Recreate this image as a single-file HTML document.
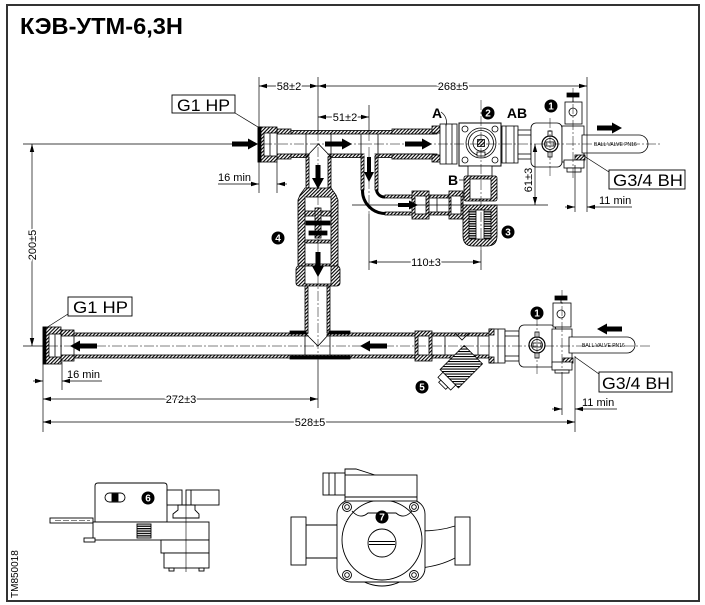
<!DOCTYPE html>
<html><head><meta charset="utf-8"><style>
html,body{margin:0;padding:0;background:#fff;width:705px;height:605px;overflow:hidden}
svg{display:block}
</style></head><body>
<svg width="705" height="605" viewBox="0 0 705 605" xmlns="http://www.w3.org/2000/svg" font-family="'Liberation Sans', Arial, sans-serif">
<defs>
<pattern id="h" width="2.5" height="2.5" patternUnits="userSpaceOnUse" patternTransform="rotate(45)">
<rect width="2.5" height="2.5" fill="#fff"/><rect width="1.1" height="2.5" fill="#000"/>
</pattern>
<pattern id="hz" width="3" height="2.4" patternUnits="userSpaceOnUse"><rect width="3" height="2.4" fill="#fff"/><rect width="3" height="1.3" fill="#000"/></pattern>
<marker id="m" viewBox="0 0 8 6" refX="8" refY="3" markerWidth="8" markerHeight="6" markerUnits="userSpaceOnUse" orient="auto-start-reverse"><path d="M0,0.8 L8,3 L0,5.2z" fill="#000"/></marker>
</defs>

<rect x="7" y="5" width="692" height="596" fill="none" stroke="#333" stroke-width="2"/>
<text x="20" y="34" font-size="23" font-weight="bold" textLength="163" lengthAdjust="spacingAndGlyphs">КЭВ-УТМ-6,3Н</text>

<!-- ===== UPPER PIPE ===== -->
<g stroke="#000" stroke-width="0.8">
<rect x="290" y="130.5" width="147" height="3.5" fill="url(#h)"/>
<rect x="290" y="154" width="147" height="3.5" fill="url(#h)"/>
<rect x="392" y="129" width="42" height="5" fill="url(#h)"/>
<rect x="392" y="154" width="42" height="5" fill="url(#h)"/>
<rect x="277" y="129" width="14" height="5" fill="url(#h)"/>
<rect x="277" y="154" width="14" height="5" fill="url(#h)"/>
<rect x="258" y="127" width="19" height="35" fill="url(#h)"/>
<rect x="264" y="133" width="13" height="23" fill="#fff"/>
<rect x="258" y="127" width="3" height="35" fill="#000"/>
<line x1="270" y1="133" x2="270" y2="156"/>
<!-- tee 1 -->
<rect x="309.5" y="153" width="18" height="6" fill="#fff" stroke="none"/>
<line x1="306" y1="134" x2="306" y2="157"/><line x1="331" y1="134" x2="331" y2="157"/>
<path d="M306,157 L318.5,144 L331,157" fill="none"/>
<rect x="306" y="157" width="3" height="31" fill="url(#h)"/>
<rect x="328" y="157" width="3" height="31" fill="url(#h)"/>
<!-- tee 2 -->
<rect x="364.5" y="153" width="10" height="6" fill="#fff" stroke="none"/>
<line x1="361" y1="134" x2="361" y2="157"/><line x1="378" y1="134" x2="378" y2="157"/>
<rect x="361" y="157" width="3" height="33" fill="url(#h)"/>
<rect x="375" y="157" width="3" height="33" fill="url(#h)"/>
<path d="M362.5,190 A23,23 0 0 0 385,213.5" fill="none" stroke-width="3"/>
<path d="M376.5,190 A8,8 0 0 0 385,197" fill="none" stroke-width="3"/>
<rect x="385" y="195" width="27" height="3" fill="url(#h)"/>
<rect x="385" y="212" width="27" height="3" fill="url(#h)"/>
<rect x="412" y="191" width="17" height="28" fill="url(#h)"/>
<rect x="415" y="196" width="11" height="18" fill="#fff"/>
<rect x="429" y="195" width="20" height="3" fill="url(#h)"/>
<rect x="429" y="212" width="20" height="3" fill="url(#h)"/>
<line x1="437" y1="198" x2="437" y2="212"/>
<rect x="449" y="191" width="14" height="28" fill="url(#h)"/>
<rect x="451" y="196" width="10" height="18" fill="#fff"/>

<!-- check valve 4 -->
<path d="M305,188 L300,195 L298,200 L298,266 L338,266 L338,200 L336,195 L331,188 Z" fill="url(#h)"/>
<rect x="305" y="197" width="26" height="67" fill="#fff"/>
<rect x="305" y="211" width="26" height="5" fill="url(#h)"/>
<rect x="315" y="208" width="6" height="30" fill="url(#h)"/>
<rect x="306" y="221" width="24" height="4" fill="#000"/>
<rect x="309" y="231" width="18" height="4" fill="#000"/>
<rect x="305" y="240" width="26" height="3" fill="url(#h)"/>
<rect x="296" y="266" width="44" height="20" rx="3" fill="url(#h)"/>
<rect x="305" y="266" width="26" height="18" fill="#fff"/>
<rect x="305" y="286" width="3" height="47" fill="url(#h)"/>
<rect x="327" y="286" width="3" height="47" fill="url(#h)"/>

<!-- nut A & mixing valve 2 -->
<rect x="432" y="126" width="8" height="7" fill="url(#h)"/>
<rect x="432" y="155" width="8" height="7" fill="url(#h)"/>
<rect x="440" y="124" width="17" height="40" fill="#fff"/>
<line x1="446" y1="124" x2="446" y2="164"/><line x1="452" y1="124" x2="452" y2="164"/>
<rect x="459" y="123" width="42" height="43" fill="#fff" stroke-width="1"/>
<circle cx="465" cy="129" r="3" fill="#fff"/><circle cx="495" cy="129" r="3" fill="#fff"/>
<circle cx="465" cy="160" r="3" fill="#fff"/><circle cx="495" cy="160" r="3" fill="#fff"/>
<circle cx="481" cy="143" r="15" fill="#fff"/>
<circle cx="481" cy="143" r="12.5" fill="none"/>
<circle cx="481" cy="143" r="8" fill="none"/>
<rect x="477.5" y="139.5" width="7" height="7" fill="url(#h)"/>
<rect x="477" y="152" width="8" height="4" fill="#fff"/>
<!-- nut AB etc -->
<rect x="502" y="126" width="16" height="37" fill="#fff"/>
<line x1="506" y1="126" x2="506" y2="163"/><line x1="514" y1="126" x2="514" y2="163"/>
<rect x="518" y="130" width="13" height="29" fill="#fff"/>
<line x1="518" y1="135" x2="531" y2="135"/><line x1="518" y1="154" x2="531" y2="154"/>
<rect x="531" y="123" width="31" height="44" rx="5" fill="#fff"/>
<circle cx="550" cy="144" r="8" fill="#fff" stroke-width="1.2"/>
<circle cx="550" cy="144" r="5.5" fill="none"/>
<rect x="546" y="142" width="8" height="4" fill="#fff"/>
<rect x="548" y="131" width="4" height="5" fill="#fff"/>
<rect x="548" y="152" width="4" height="5" fill="#fff"/>
<rect x="562" y="126" width="22" height="36" fill="#fff"/>
<rect x="565" y="102" width="17" height="22" fill="#fff"/>
<circle cx="573" cy="112" r="4" fill="#fff"/>
<rect x="567" y="93" width="12" height="4" fill="#000"/>
<line x1="573" y1="97" x2="573" y2="102"/>
<rect x="575" y="155" width="10" height="5" fill="url(#h)"/>
<rect x="564" y="160" width="20" height="8" fill="#fff"/>
<rect x="567" y="168" width="14" height="4" fill="#fff"/>
<path d="M582,135 L639,135 A9,9 0 0 1 639,153 L582,153 Z" fill="#fff"/>
<!-- B port & 3 -->
<rect x="468" y="166" width="24" height="10" fill="#fff"/>
<rect x="464" y="176" width="33" height="25" rx="2" fill="url(#h)"/>
<rect x="470" y="179" width="21" height="20" fill="#fff"/>
<path d="M463,205 L497,205 L497,236 Q497,246 487,246 L473,246 Q463,246 463,236 Z" fill="url(#h)"/>
<rect x="469" y="210" width="22" height="29" fill="url(#hz)"/>
<rect x="476" y="210" width="8" height="29" fill="#fff"/>
</g>

<!-- ===== LOWER PIPE ===== -->
<g stroke="#000" stroke-width="0.8">
<rect x="74" y="333" width="341" height="3" fill="url(#h)"/>
<rect x="74" y="355" width="341" height="3" fill="url(#h)"/>
<rect x="61" y="330" width="13" height="6" fill="url(#h)"/>
<rect x="61" y="355" width="13" height="6" fill="url(#h)"/>
<line x1="74" y1="336" x2="74" y2="355"/>
<rect x="43" y="327" width="18" height="37" fill="url(#h)"/>
<rect x="49" y="334" width="12" height="23" fill="#fff"/>
<rect x="43" y="327" width="3" height="37" fill="#000"/>
<line x1="55" y1="334" x2="55" y2="357"/>
<!-- lower tee -->
<rect x="308.5" y="331" width="18" height="6" fill="#fff" stroke="none"/>
<rect x="290" y="331" width="16" height="3" fill="#000"/>
<rect x="329" y="331" width="21" height="3" fill="#000"/>
<rect x="290" y="356" width="60" height="3" fill="#000"/>
<line x1="305" y1="336" x2="305" y2="355"/><line x1="330" y1="336" x2="330" y2="355"/>
<path d="M305,333 L318,346 L330,333" fill="none"/>
<!-- strainer -->
<rect x="415" y="331" width="17" height="30" fill="url(#h)"/>
<rect x="418" y="336" width="11" height="19" fill="#fff"/>
<rect x="432" y="333" width="57" height="3" fill="url(#h)"/>
<rect x="432" y="355" width="57" height="3" fill="url(#h)"/>
<line x1="445" y1="336" x2="445" y2="355"/><line x1="478" y1="336" x2="478" y2="355"/>
<path d="M455,333 L462,340 L469,333" fill="none"/>
<g transform="translate(462,366) rotate(45)">
<rect x="-13" y="-16" width="26" height="34" fill="url(#h)"/>
<rect x="-9" y="18" width="18" height="7" fill="#fff"/>
<rect x="-5" y="25" width="10" height="3" fill="#fff"/>
</g>
<rect x="489" y="329" width="16" height="34" fill="#fff"/>
<rect x="489" y="329" width="5" height="6" fill="url(#h)"/>
<rect x="489" y="357" width="5" height="6" fill="url(#h)"/>
<line x1="498" y1="329" x2="498" y2="363"/>
<rect x="505" y="331" width="14" height="30" fill="#fff"/>
<line x1="505" y1="336" x2="519" y2="336"/><line x1="505" y1="356" x2="519" y2="356"/>
<rect x="519" y="325" width="37" height="42" rx="5" fill="#fff"/>
<circle cx="537" cy="345" r="8" fill="#fff" stroke-width="1.2"/>
<circle cx="537" cy="345" r="5.5" fill="none"/>
<rect x="533" y="343" width="8" height="4" fill="#fff"/>
<rect x="535" y="332" width="4" height="5" fill="#fff"/>
<rect x="535" y="353" width="4" height="5" fill="#fff"/>
<rect x="552" y="329" width="20" height="34" fill="#fff"/>
<rect x="553" y="303" width="18" height="24" fill="#fff"/>
<circle cx="561" cy="314" r="4" fill="#fff"/>
<rect x="555" y="296" width="12" height="4" fill="#000"/>
<line x1="561" y1="300" x2="561" y2="303"/>
<rect x="563" y="358" width="10" height="5" fill="url(#h)"/>
<rect x="552" y="362" width="20" height="8" fill="#fff"/>
<rect x="555" y="370" width="14" height="3" fill="#fff"/>
<path d="M569,337 L627,337 A8,8 0 0 1 627,353 L569,353 Z" fill="#fff"/>
</g>
<text x="594" y="146" font-size="5">BALL VALVE PN16</text>
<text x="582" y="347" font-size="5">BALL VALVE PN16</text>

<!-- ===== centerlines ===== -->
<g stroke="#000" stroke-width="0.5" stroke-dasharray="10 2 2 2" fill="none">
<line x1="262" y1="144" x2="662" y2="144"/>
<line x1="48" y1="346" x2="652" y2="346"/>
<line x1="318" y1="131" x2="318" y2="360"/>
<line x1="369" y1="131" x2="369" y2="214"/>
<line x1="481" y1="100" x2="481" y2="250"/>
<line x1="550" y1="118" x2="550" y2="176"/>
<line x1="573" y1="88" x2="573" y2="178"/>
<line x1="537" y1="316" x2="537" y2="376"/>
<line x1="562" y1="290" x2="562" y2="370"/>
</g>

<!-- ===== dimensions ===== -->
<g stroke="#000" stroke-width="0.7" fill="none">
<line x1="259" y1="77" x2="259" y2="193"/>
<line x1="318" y1="77" x2="318" y2="131"/>
<line x1="587" y1="77" x2="587" y2="212"/>
<line x1="369" y1="105" x2="369" y2="131"/>
<line x1="277" y1="162" x2="277" y2="193"/>
<line x1="369" y1="214" x2="369" y2="270"/>
<line x1="481" y1="250" x2="481" y2="270"/>
<line x1="575" y1="165" x2="575" y2="212"/>
<line x1="23" y1="144" x2="258" y2="144"/>
<line x1="23" y1="346" x2="43" y2="346"/>
<line x1="352" y1="205" x2="548" y2="205"/>
<line x1="43" y1="364" x2="43" y2="432"/>
<line x1="62" y1="362" x2="62" y2="390"/>
<line x1="318" y1="360" x2="318" y2="408"/>
<line x1="575" y1="356" x2="575" y2="432"/>
<line x1="562" y1="372" x2="562" y2="415"/>
<line x1="259" y1="86" x2="318" y2="86" marker-start="url(#m)" marker-end="url(#m)"/>
<line x1="318" y1="86" x2="587" y2="86" marker-start="url(#m)" marker-end="url(#m)"/>
<line x1="318" y1="117" x2="369" y2="117" marker-start="url(#m)" marker-end="url(#m)"/>
<line x1="369" y1="262" x2="481" y2="262" marker-start="url(#m)" marker-end="url(#m)"/>
<line x1="535" y1="144" x2="535" y2="205" marker-start="url(#m)" marker-end="url(#m)"/>
<line x1="32" y1="144" x2="32" y2="346" marker-start="url(#m)" marker-end="url(#m)"/>
<line x1="43" y1="399" x2="318" y2="399" marker-start="url(#m)" marker-end="url(#m)"/>
<line x1="43" y1="422" x2="575" y2="422" marker-start="url(#m)" marker-end="url(#m)"/>
<line x1="218" y1="184" x2="259" y2="184" marker-end="url(#m)"/>
<line x1="287" y1="184" x2="277" y2="184" marker-end="url(#m)"/>
<line x1="565" y1="207" x2="575" y2="207" marker-end="url(#m)"/>
<line x1="632" y1="207" x2="587" y2="207" marker-end="url(#m)"/>
<line x1="33" y1="381" x2="43" y2="381" marker-end="url(#m)"/>
<line x1="102" y1="381" x2="62" y2="381" marker-end="url(#m)"/>
<line x1="552" y1="409" x2="562" y2="409" marker-end="url(#m)"/>
<line x1="617" y1="409" x2="575" y2="409" marker-end="url(#m)"/>
<!-- leaders -->
<line x1="235" y1="113" x2="258" y2="127"/>
<line x1="68" y1="314" x2="46" y2="328"/>
<line x1="609" y1="172" x2="584" y2="156"/>
<line x1="599" y1="374" x2="575" y2="357"/>
<path d="M441,112 Q448,117 446,126"/>
<line x1="459" y1="180" x2="466" y2="180"/>
</g>
<g font-size="11" text-anchor="middle" stroke="#fff" stroke-width="3" paint-order="stroke" fill="#000">
<text x="289" y="90">58±2</text>
<text x="453" y="90">268±5</text>
<text x="345" y="121">51±2</text>
<text x="426" y="266">110±3</text>
<text x="181" y="403">272±3</text>
<text x="310" y="426">528±5</text>
<text transform="translate(36,245) rotate(-90)">200±5</text>
<text transform="translate(532,180) rotate(-90)">61±3</text>
</g>
<g font-size="11">
<text x="218" y="181">16 min</text>
<text x="599" y="204">11 min</text>
<text x="67" y="378">16 min</text>
<text x="582" y="406">11 min</text>
</g>

<!-- label boxes -->
<g fill="#fff" stroke="#000" stroke-width="0.9">
<rect x="172" y="95" width="63" height="18"/>
<rect x="68" y="297" width="64" height="19"/>
<rect x="609" y="170" width="76" height="19"/>
<rect x="599" y="372" width="73" height="20"/>
</g>
<g font-size="17">
<text x="177" y="111" textLength="53" lengthAdjust="spacingAndGlyphs">G1 HP</text>
<text x="73" y="313" textLength="55" lengthAdjust="spacingAndGlyphs">G1 HP</text>
<text x="613" y="186" textLength="70" lengthAdjust="spacingAndGlyphs">G3/4 BH</text>
<text x="602" y="389" textLength="68" lengthAdjust="spacingAndGlyphs">G3/4 BH</text>
</g>
<g font-size="14" font-weight="bold" text-anchor="middle">
<text x="437" y="118">A</text>
<text x="517" y="118">AB</text>
<text x="453" y="185">B</text>
</g>

<!-- flow arrows -->
<g fill="#000">
<polygon points="232,141.5 248,141.5 248,138.5 258,144 248,149.5 248,146.5 232,146.5"/>
<polygon points="325,141.5 342,141.5 342,138.5 352,144 342,149.5 342,146.5 325,146.5"/>
<polygon points="405,141.5 422,141.5 422,138.5 432,144 422,149.5 422,146.5 405,146.5"/>
<polygon points="597,125.5 612,125.5 612,122.5 622,128 612,133.5 612,130.5 597,130.5"/>
<polygon points="315.5,165 320.5,165 320.5,178 324,178 318,189 312,178 315.5,178"/>
<polygon points="315.5,252 320.5,252 320.5,266 324,266 318,277 312,266 315.5,266"/>
<polygon points="367,157 371,157 371,172 374,172 369,182 364,172 367,172"/>
<polygon points="398,203 409,203 409,200.5 418,205 409,209.5 409,207 398,207"/>
<polygon points="622,326.5 607,326.5 607,323.5 597,329 607,334.5 607,331.5 622,331.5"/>
<polygon points="387,343.5 370,343.5 370,340.5 360,346 370,351.5 370,348.5 387,348.5"/>
<polygon points="97,343.5 80,343.5 80,340.5 70,346 80,351.5 80,348.5 97,348.5"/>
</g>

<!-- ===== component 6 ===== -->
<g stroke="#000" stroke-width="0.9" fill="#fff">
<rect x="50" y="518" width="43" height="5"/>
<path d="M95,522 L95,486 Q95,483 98,483 L164,483 Q167,483 167,486 L167,522 Z"/>
<rect x="105" y="493" width="20" height="9" rx="4.5"/>
<rect x="112" y="494" width="6" height="7" fill="#000"/>
<rect x="167" y="490" width="15" height="15"/>
<rect x="186" y="490" width="33" height="15"/>
<line x1="191" y1="490" x2="191" y2="505"/>
<path d="M178,505 L195,505 L195,510 L199,514 L199,518 L173,518 L173,514 L178,510 Z"/>
<rect x="93" y="522" width="116" height="18"/>
<rect x="84" y="538" width="11" height="4"/>
<rect x="137" y="524" width="14" height="14" fill="url(#hz)"/>
<rect x="161" y="540" width="48" height="13"/>
<rect x="164" y="553" width="45" height="15"/>
<rect x="169" y="568" width="5" height="3"/>
<rect x="199" y="568" width="5" height="3"/>
<line x1="186" y1="505" x2="186" y2="572" stroke-width="0.6"/>
</g>
<line x1="55" y1="520.5" x2="90" y2="520.5" stroke="#000" stroke-width="0.5" stroke-dasharray="6 2"/>

<!-- ===== component 7 ===== -->
<g stroke="#000" stroke-width="0.9" fill="#fff">
<path d="M306,525 L340,525 L340,558 L306,558 Z"/>
<path d="M420,531 Q440,531 455,526 L455,558 Q440,566 420,568 Z"/>
<rect x="291" y="517" width="15" height="48"/>
<rect x="455" y="517" width="15" height="48"/>
<path d="M357,578 Q382,594 407,578"/>
<rect x="337" y="500" width="88" height="82" rx="14"/>
<circle cx="382" cy="540" r="40"/>
<path d="M352,511 Q360,520 368,513 L396,513 Q404,520 412,511" fill="none"/>
<circle cx="347" cy="507" r="4.5"/><circle cx="347" cy="507" r="2.3"/>
<circle cx="414" cy="507" r="4.5"/><circle cx="414" cy="507" r="2.3"/>
<circle cx="347" cy="575" r="4.5"/><circle cx="347" cy="575" r="2.3"/>
<circle cx="414" cy="575" r="4.5"/><circle cx="414" cy="575" r="2.3"/>
<path d="M345,475 L345,469 L356,469 L378,476"/>
<rect x="345" y="475" width="72" height="26"/>
<line x1="345" y1="497" x2="417" y2="497"/>
<rect x="323" y="473" width="22" height="22"/>
<line x1="329" y1="473" x2="329" y2="495"/><line x1="335" y1="473" x2="335" y2="495"/>
<circle cx="382" cy="543" r="14"/>
<line x1="369" y1="541.5" x2="395" y2="541.5"/><line x1="369" y1="544.5" x2="395" y2="544.5"/>
</g>

<!-- circled numbers -->
<g>
<circle cx="551" cy="106" r="6.5"/><circle cx="488" cy="113" r="6.5"/><circle cx="508" cy="232" r="6.5"/>
<circle cx="278" cy="238" r="6.5"/><circle cx="422" cy="387" r="6.5"/><circle cx="537" cy="313" r="6.5"/>
<circle cx="148" cy="498" r="6.5"/><circle cx="382" cy="517" r="6.5"/>
</g>
<g fill="#fff" font-size="10" font-weight="bold" text-anchor="middle">
<text x="551" y="109.5">1</text><text x="488" y="116.5">2</text><text x="508" y="235.5">3</text>
<text x="278" y="241.5">4</text><text x="422" y="390.5">5</text><text x="537" y="316.5">1</text>
<text x="148" y="501.5">6</text><text x="382" y="520.5">7</text>
</g>

<text transform="translate(18,598) rotate(-90)" font-size="10">TM850018</text>
</svg>
</body></html>
